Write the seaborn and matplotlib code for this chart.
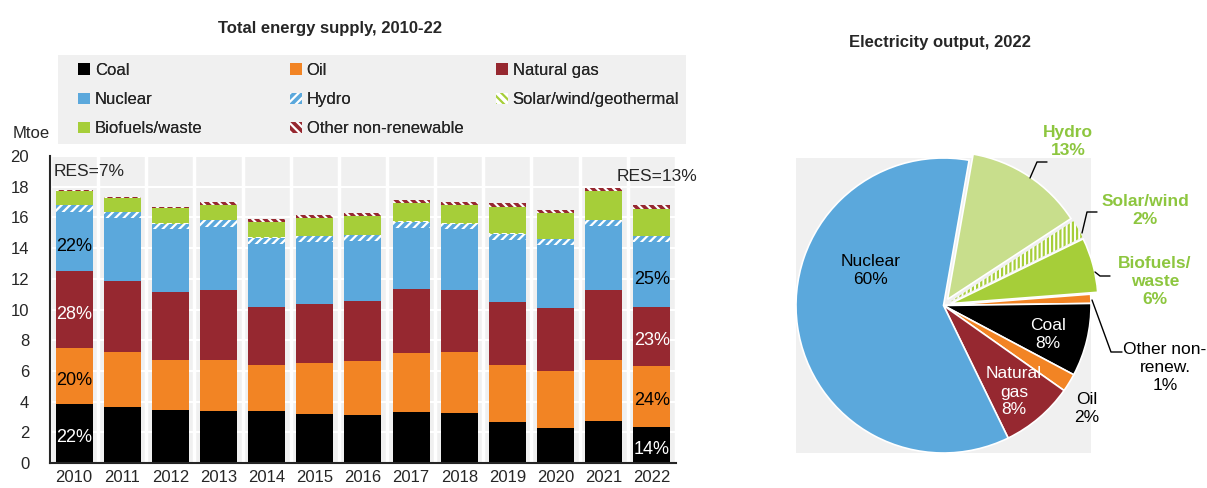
import matplotlib.pyplot as plt
import matplotlib.patches as mpatches
import numpy as np
import pandas as pd
import seaborn as sns

sns.set_style("white")
plt.rcParams["font.family"] = ["Liberation Sans", "DejaVu Sans"]
plt.rcParams["hatch.linewidth"] = 1.6

# data: total energy supply (Mtoe)
years = ["2010", "2011", "2012", "2013", "2014", "2015", "2016",
         "2017", "2018", "2019", "2020", "2021", "2022"]
coal = [3.86, 3.68, 3.45, 3.40, 3.36, 3.21, 3.16, 3.34, 3.29, 2.69, 2.25, 2.75, 2.34]
oil = [3.62, 3.56, 3.29, 3.30, 3.03, 3.31, 3.51, 3.85, 3.93, 3.70, 3.77, 3.97, 4.01]
natural_gas = [5.02, 4.63, 4.40, 4.55, 3.79, 3.86, 3.88, 4.14, 4.07, 4.10, 4.10, 4.55, 3.81]
nuclear = [3.86, 4.12, 4.11, 4.16, 4.10, 4.03, 3.92, 3.99, 3.94, 4.05, 4.07, 4.18, 4.25]
hydro = [0.48, 0.35, 0.35, 0.43, 0.41, 0.37, 0.37, 0.41, 0.37, 0.39, 0.39, 0.37, 0.35]
solar_wind = [0.00, 0.00, 0.01, 0.01, 0.01, 0.01, 0.02, 0.02, 0.03, 0.03, 0.03, 0.04, 0.04]
biofuels = [0.88, 0.95, 1.01, 0.96, 1.01, 1.20, 1.22, 1.19, 1.18, 1.75, 1.68, 1.84, 1.78]
other_nonren = [0.05, 0.03, 0.06, 0.18, 0.17, 0.20, 0.19, 0.20, 0.20, 0.21, 0.22, 0.22, 0.21]

share_2010 = ["22%", "20%", "28%", "22%"]
share_2022 = ["14%", "24%", "23%", "25%"]

# data: electricity output 2022 (%)
pie_labels = ["Hydro", "Solar/wind", "Biofuels/\nwaste", "Other non-\nrenew.",
              "Coal", "Oil", "Natural\ngas", "Nuclear"]
pie_values = [13, 2, 6, 1, 8, 2, 8, 60]

c_coal = "#000000"
c_oil = "#F28424"
c_gas = "#962830"
c_nuc = "#5BA8DC"
c_bio = "#A6CE39"
c_hydro_pie = "#C8DE8C"
c_green_txt = "#8DC63F"
bg = "#F0F0F0"

fig = plt.figure(figsize=(12.07, 4.88), dpi=100)


def fig_xy(px, py):
    return px / 1207, 1 - py / 488


# ---- stacked bars
ax = fig.add_axes([0.0414, 0.0512, 0.5186, 0.629])
ax.set_facecolor(bg)

layers = [
    ("Coal", coal, c_coal, None, c_coal),
    ("Oil", oil, c_oil, None, c_oil),
    ("Natural gas", natural_gas, c_gas, None, c_gas),
    ("Nuclear", nuclear, c_nuc, None, c_nuc),
    ("Hydro", hydro, c_nuc, "////", "white"),
    ("Solar/wind/geothermal", solar_wind, "white", "\\\\\\\\", c_bio),
    ("Biofuels/waste", biofuels, c_bio, None, c_bio),
    ("Other non-renewable", other_nonren, c_gas, "\\\\\\\\", "white"),
]

df = pd.DataFrame({"year": years})
running = np.zeros(len(years))
for name, vals, *_ in layers:
    running = running + np.array(vals)
    df[name] = running

# draw cumulative tops from the top layer down so lower layers cover them
for name, vals, fc, hatch, ec in reversed(layers):
    sns.barplot(data=df, x="year", y=name, order=years, color=fc, width=0.77,
                saturation=1, ax=ax, hatch=hatch, edgecolor=ec, linewidth=0)

ax.set_ylim(0, 20)
ax.set_xlim(-0.5, 12.5)
ax.set_yticks(np.arange(0, 21, 2))
ax.set_xlabel("")
ax.set_ylabel("")
ax.set_xticks(np.arange(-0.5, 12.6, 1), minor=True)
ax.grid(True, axis="y", color="white", lw=1.5)
ax.grid(True, axis="x", which="minor", color="white", lw=2.5)
ax.set_axisbelow(True)
ax.tick_params(axis="x", which="major", length=0, labelsize=12, pad=5)
ax.tick_params(axis="x", which="minor", direction="in", length=4, width=1.2, color="black")
ax.tick_params(axis="y", direction="inout", length=6, width=1.2, labelsize=12, pad=12)
for s in ["top", "right"]:
    ax.spines[s].set_visible(False)
ax.spines["left"].set_linewidth(1.5)
ax.spines["bottom"].set_linewidth(1.5)

# share labels
mids_2010 = [coal[0] / 2, coal[0] + oil[0] / 2,
             coal[0] + oil[0] + natural_gas[0] / 2,
             coal[0] + oil[0] + natural_gas[0] + nuclear[0] / 2]
mids_2022 = [coal[-1] / 2, coal[-1] + oil[-1] / 2,
             coal[-1] + oil[-1] + natural_gas[-1] / 2,
             coal[-1] + oil[-1] + natural_gas[-1] + nuclear[-1] / 2]
txt_cols = ["white", "black", "white", "black"]
for lab, y, col in zip(share_2010, mids_2010, txt_cols):
    ax.text(0.0, y - 0.3, lab, ha="center", va="center", color=col, fontsize=13)
for lab, y, col in zip(share_2022, mids_2022, txt_cols):
    ax.text(12.0, y - 0.3, lab, ha="center", va="center", color=col, fontsize=13)
ax.text(-0.43, 19.0, "RES=7%", ha="left", va="center", fontsize=12.5)
ax.text(12.95, 18.7, "RES=13%", ha="right", va="center", fontsize=12.5, clip_on=False)
fig.text(*fig_xy(31, 133), "Mtoe", ha="center", va="center", fontsize=12)

fig.text(*fig_xy(330, 28), "Total energy supply, 2010-22", ha="center",
         va="center", fontsize=12, fontweight="bold")

# legend: grey box with three columns
fig.add_artist(mpatches.Rectangle(fig_xy(58, 144), 628 / 1207, 89 / 488,
                                  transform=fig.transFigure, facecolor=bg,
                                  edgecolor="none", zorder=0))
handles = {}
for name, vals, fc, hatch, ec in layers:
    handles[name] = mpatches.Patch(facecolor=fc, hatch=hatch, edgecolor=ec,
                                   linewidth=0, label=name)
columns = [(78, ["Coal", "Nuclear", "Biofuels/waste"]),
           (290, ["Oil", "Hydro", "Other non-renewable"]),
           (496, ["Natural gas", "Solar/wind/geothermal"])]
for x0, names in columns:
    lg = fig.legend([handles[n] for n in names], names, loc="upper left",
                    bbox_to_anchor=fig_xy(x0, 63), frameon=False, fontsize=12,
                    handlelength=0.7, handleheight=0.7, handletextpad=0.3,
                    labelspacing=0.85, borderaxespad=0, borderpad=0)
    fig.add_artist(lg)

# ---- pie
pax = fig.add_axes([795 / 1207, 1 - 453 / 488, 297 / 1207, 295 / 488])
pie_colors = [c_hydro_pie, "white", c_bio, c_oil, c_coal, c_oil, c_gas, c_nuc]
explode = [0.05, 0.05, 0.05, 0, 0, 0, 0, 0]
wedges, _ = pax.pie(pie_values, colors=pie_colors, startangle=80, counterclock=False,
                    explode=explode, radius=1.0,
                    wedgeprops=dict(edgecolor="white", linewidth=1.2))
wedges[1].set_hatch("||||")
wedges[1].set_edgecolor(c_bio)
wedges[1].set_linewidth(0)
for w in wedges:
    w.set_clip_on(False)
pax.set_frame_on(True)
pax.set_facecolor(bg)
for s in pax.spines.values():
    s.set_visible(False)
pax.set_xlim(-1, 1)
pax.set_ylim(-1, 1)
pax.set_xticks([])
pax.set_yticks([])

fig.text(*fig_xy(940, 43), "Electricity output, 2022", ha="center", va="center",
         fontsize=12, fontweight="bold")

inside = [("Nuclear\n60%", 871, 270, "black"), ("Coal\n8%", 1048, 335, "white"),
          ("Natural\ngas\n8%", 1014, 392, "white"), ("Oil\n2%", 1087, 408, "black")]
for txt, x, y, col in inside:
    fig.text(*fig_xy(x, y), txt, ha="center", va="center", color=col, fontsize=12.5,
             linespacing=1.25)

outside = [("Hydro\n13%", 1068, 142, c_green_txt, "bold"),
           ("Solar/wind\n2%", 1145, 210, c_green_txt, "bold"),
           ("Biofuels/\nwaste\n6%", 1155, 281, c_green_txt, "bold"),
           ("Other non-\nrenew.\n1%", 1165, 368, "black", "normal")]
for txt, x, y, col, wt in outside:
    fig.text(*fig_xy(x, y), txt, ha="center", va="center", color=col, fontsize=12.5,
             fontweight=wt, linespacing=1.25)

leaders = [[(1047, 162), (1037, 162), (1030, 178)],
           [(1097, 212), (1087, 212), (1082, 233)],
           [(1110, 276), (1100, 276), (1095, 272)],
           [(1122, 352), (1111, 352), (1092, 300)]]
for pts in leaders:
    xs = [fig_xy(*p)[0] for p in pts]
    ys = [fig_xy(*p)[1] for p in pts]
    fig.add_artist(plt.Line2D(xs, ys, color="black", lw=1, transform=fig.transFigure))

fig.savefig("out.png", dpi=100)
